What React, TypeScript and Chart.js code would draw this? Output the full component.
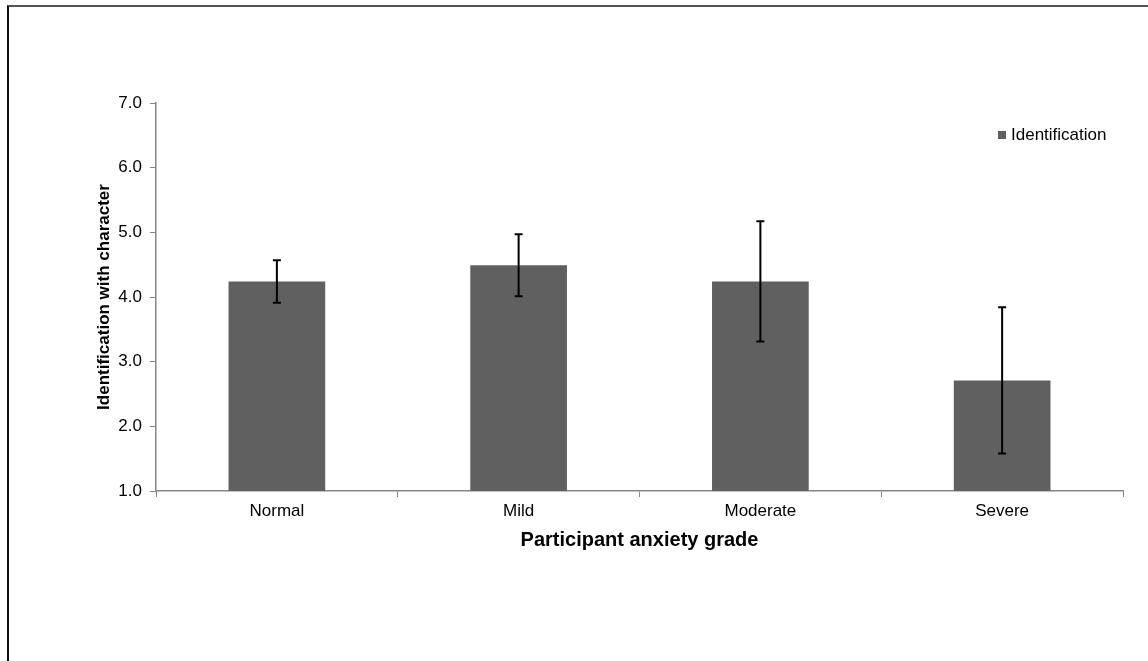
import React, { useEffect, useRef } from "react";
import { Chart, registerables } from "chart.js";

Chart.register(...registerables);

const categories = ["Normal", "Mild", "Moderate", "Severe"];
const seriesLabel = "Identification";
const values = [4.24, 4.49, 4.24, 2.71];
const errors = [0.33, 0.48, 0.93, 1.13];
const yTickMin = 1;
const yTickMax = 7;
const yTickStep = 1;
const xTitle = "Participant anxiety grade";
const yTitle = "Identification with character";

const BAR_COLOR = "#606060";
const AXIS_COLOR = "#868686";
const FONT = "'Liberation Sans', Arial, sans-serif";

const errorBarPlugin = {
  id: "errorBars",
  afterDatasetsDraw(chart: any) {
    const meta = chart.getDatasetMeta(0);
    const yScale = chart.scales.y;
    const ctx = chart.ctx;
    ctx.save();
    ctx.strokeStyle = "#000";
    ctx.lineWidth = 2;
    meta.data.forEach((bar: any, i: number) => {
      const v = values[i];
      const e = errors[i];
      const x = bar.x;
      const yTop = yScale.getPixelForValue(v + e);
      const yBot = yScale.getPixelForValue(v - e);
      ctx.beginPath();
      ctx.moveTo(x, yTop);
      ctx.lineTo(x, yBot);
      ctx.moveTo(x - 4, yTop);
      ctx.lineTo(x + 4, yTop);
      ctx.moveTo(x - 4, yBot);
      ctx.lineTo(x + 4, yBot);
      ctx.stroke();
    });
    ctx.restore();
  },
};

const legendPlugin = {
  id: "insideLegend",
  afterDraw(chart: any) {
    const { ctx, chartArea } = chart;
    const x = chartArea.right - 125;
    const y = chartArea.top + 32;
    ctx.save();
    ctx.fillStyle = BAR_COLOR;
    ctx.fillRect(x, y - 4, 8, 8);
    ctx.fillStyle = "#000";
    ctx.font = `17px ${FONT}`;
    ctx.textBaseline = "middle";
    ctx.textAlign = "left";
    ctx.fillText(chart.data.datasets[0].label, x + 13, y);
    ctx.restore();
  },
};

export default function App() {
  const canvasRef = useRef<HTMLCanvasElement | null>(null);

  useEffect(() => {
    if (!canvasRef.current) return;
    const chart = new Chart(canvasRef.current, {
      type: "bar",
      data: {
        labels: categories,
        datasets: [
          {
            label: seriesLabel,
            data: values,
            backgroundColor: BAR_COLOR,
            borderWidth: 0,
            barPercentage: 0.4,
            categoryPercentage: 1,
          },
        ],
      },
      options: {
        animation: false,
        responsive: false,
        devicePixelRatio: 1,
        layout: { padding: { left: 90, top: 103, right: 25, bottom: 105 } },
        plugins: {
          legend: { display: false },
          tooltip: { enabled: false },
        },
        scales: {
          x: {
            grid: {
              display: true,
              drawOnChartArea: false,
              drawTicks: true,
              tickLength: 6,
              color: AXIS_COLOR,
              offset: true,
            },
            border: { display: true, color: AXIS_COLOR, width: 1.5 },
            ticks: {
              color: "#000",
              padding: 4,
              font: { family: FONT, size: 17 },
              maxRotation: 0,
            },
            title: {
              display: true,
              text: xTitle,
              color: "#000",
              font: { family: FONT, size: 20, weight: "bold" },
              padding: { top: 0, bottom: 4 },
            },
            afterFit(scale: any) {
              scale.height = 65;
            },
          },
          y: {
            min: yTickMin,
            max: yTickMax,
            grid: {
              display: true,
              drawOnChartArea: false,
              drawTicks: true,
              tickLength: 6,
              color: AXIS_COLOR,
            },
            border: { display: true, color: AXIS_COLOR, width: 1.5 },
            ticks: {
              stepSize: yTickStep,
              color: "#000",
              padding: 8,
              font: { family: FONT, size: 17 },
              callback: (v: any) => Number(v).toFixed(1),
            },
            title: {
              display: true,
              text: yTitle,
              color: "#000",
              font: { family: FONT, size: 17, weight: "bold" },
              padding: { top: 4, bottom: 0 },
            },
            afterFit(scale: any) {
              scale.width = 66;
            },
          },
        },
      },
      plugins: [errorBarPlugin, legendPlugin],
    });
    return () => chart.destroy();
  }, []);

  return (
    <>
      <div
        style={{
          position: "fixed",
          left: 7,
          top: 5,
          width: 1300,
          height: 800,
          borderTop: "2px solid #555",
          borderLeft: "2px solid #111",
          background: "#fff",
        }}
      />
      <canvas
        ref={canvasRef}
        width={1148}
        height={661}
        style={{ position: "fixed", left: 0, top: 0, width: 1148, height: 661 }}
      />
    </>
  );
}
